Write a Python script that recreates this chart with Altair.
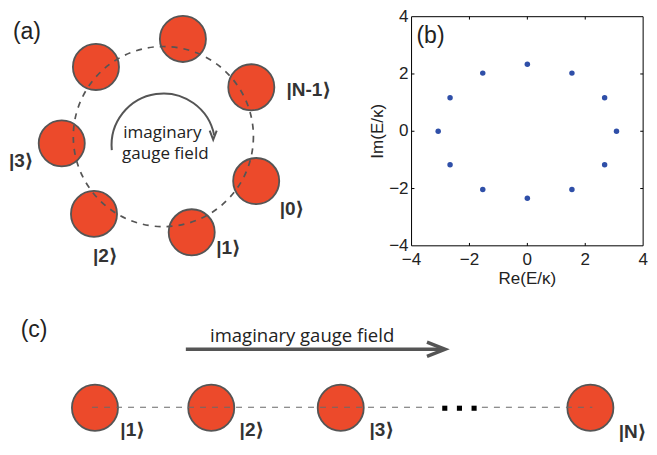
import math
import altair as alt
import pandas as pd

# ---------------- data ----------------
# panel (b): eigenvalues E/kappa
re_vals = [3.08, 2.67, 1.54, 0.0, -1.54, -2.67, -3.08, -2.67, -1.54, 0.0, 1.54, 2.67]
im_vals = [0.0, 1.17, 2.03, 2.34, 2.03, 1.17, 0.0, -1.17, -2.03, -2.34, -2.03, -1.17]
b_ticks = [-4, -2, 0, 2, 4]
b_tick_labels = ["−4", "−2", "0", "2", "4"]
b_inner_ticks = [-2, 0, 2]
b_xtitle = ["Re(E/κ)"]
b_ytitle = ["Im(E/κ)"]

# panel (a): ring of resonators (schematic, in reference-picture units)
ring_site_x = [184, 254, 259, 193, 93, 60, 95]
ring_site_y = [33, 83, 180, 233, 214, 141, 62]
ring_center_x = [164]
ring_center_y = [134]
ring_labels = ["|N-1⟩", "|0⟩", "|1⟩", "|2⟩", "|3⟩"]
ring_label_x = [290, 283, 218, 92, 6]
ring_label_y = [86, 209, 249, 258, 159]
gauge_a_text = ["imaginary", "gauge field"]
gauge_a_x = [163, 166]
gauge_a_y = [135.5, 157.5]
arc_center_x = [164]
arc_center_y = [143]
arc_head_x = [215]
arc_head_y = [132.5]

# panel (c): open chain of resonators
chain_site_x = [94, 213, 345.5, 601]
chain_site_y = [414.5, 414.5, 414.5, 414.5]
chain_labels = ["|1⟩", "|2⟩", "|3⟩", "|N⟩"]
chain_label_x = [120, 242, 375, 630]
chain_label_y = [438, 438, 438, 440]
link_x = [91, 490]
link_x2 = [445, 603]
link_y = [414, 414]
dots_x = [452, 467, 482]
dots_y = [415, 415, 415]
shaft_x = [187]
shaft_x2 = [450]
shaft_y = [354]
head_c_x = [443]
head_c_y = [354]
gauge_c_text = ["imaginary gauge field"]
gauge_c_x = [306]
gauge_c_y = [346.5]

# panel tags
tag_text = ["(a)", "(b)", "(c)"]
tag_x = [10, 423, 18]
tag_y = [25.5, 30, 334]

# ---------------- layout ----------------
W, H = 641, 436
RX0, RX1 = 5, 661
RY0, RY1 = 1, 452
PX = W / (RX1 - RX0)
PY = H / (RY1 - RY0)


def mx(v):
    return (v - RX0) * W / (RX1 - RX0)


def my(v):
    return (v - RY0) * H / (RY1 - RY0)


B_LEFT, B_RIGHT, B_TOP, B_BOTTOM = 418, 655, 10, 247

RED = "#EC4A2B"
EDGE = "#555555"
TXT = "#222222"
SANS = "Liberation Sans, Arial, DejaVu Sans"
KET = "Liberation Sans, DejaVu Sans"
SOFT = "Open Sans, DejaVu Sans"

xs = alt.Scale(domain=[RX0, RX1], range=[0, W], nice=False, zero=False)
ys = alt.Scale(domain=[RY0, RY1], range=[0, H], nice=False, zero=False)


def X(f):
    return alt.X(f, type="quantitative", scale=xs, axis=None)


def Y(f):
    return alt.Y(f, type="quantitative", scale=ys, axis=None)


sites = pd.DataFrame({"x": ring_site_x + chain_site_x, "y": ring_site_y + chain_site_y})
circles = alt.Chart(sites).mark_circle(
    size=math.pi * (26.6 * PX) ** 2, fill=RED, stroke=EDGE, strokeWidth=1.8, opacity=1
).encode(x=X("x"), y=Y("y"))

ring = alt.Chart(pd.DataFrame({"x": ring_center_x, "y": ring_center_y})).mark_point(
    shape="circle", filled=False, stroke=EDGE, strokeWidth=1.7, strokeDash=[6, 6],
    size=math.pi * (104 * PX) ** 2, opacity=1
).encode(x=X("x"), y=Y("y"))

links = alt.Chart(pd.DataFrame({"x": link_x, "x2": link_x2, "y": link_y})).mark_rule(
    stroke="#6a6a6a", strokeWidth=1.2, strokeDash=[6, 6]
).encode(x=X("x"), x2="x2", y=Y("y"))

dots = alt.Chart(pd.DataFrame({"x": dots_x, "y": dots_y})).mark_square(
    size=26, color="#000000", opacity=1
).encode(x=X("x"), y=Y("y"))

arc = alt.Chart(pd.DataFrame({"x": arc_center_x, "y": arc_center_y})).mark_arc(
    theta=4.62, theta2=7.66, radius=53 * PX, radius2=53 * PX,
    filled=False, color=EDGE, strokeWidth=2
).encode(x=X("x"), y=Y("y"))

arc_head = alt.Chart(pd.DataFrame({"x": arc_head_x, "y": arc_head_y})).mark_point(
    shape="M-0.78,-1L0,1L0.78,-1", filled=False, color=EDGE, strokeWidth=2,
    size=81, opacity=1
).encode(x=X("x"), y=Y("y"))

shaft = alt.Chart(pd.DataFrame({"x": shaft_x, "x2": shaft_x2, "y": shaft_y})).mark_rule(
    color=EDGE, strokeWidth=3.5
).encode(x=X("x"), x2="x2", y=Y("y"))

head_c = alt.Chart(pd.DataFrame({"x": head_c_x, "y": head_c_y})).mark_point(
    shape="M-1,-0.78L1,0L-1,0.78", filled=False, color=EDGE, strokeWidth=3.5,
    size=324, opacity=1
).encode(x=X("x"), y=Y("y"))

kets = alt.Chart(pd.DataFrame({
    "t": ring_labels + chain_labels,
    "x": ring_label_x + chain_label_x,
    "y": ring_label_y + chain_label_y,
})).mark_text(
    align="left", baseline="middle", font=KET, fontSize=19, fontWeight="bold", color="#333333"
).encode(x=X("x"), y=Y("y"), text="t:N")

gauge_a = alt.Chart(pd.DataFrame({"t": gauge_a_text, "x": gauge_a_x, "y": gauge_a_y})).mark_text(
    align="center", baseline="alphabetic", font=SOFT, fontSize=17, color=TXT
).encode(x=X("x"), y=Y("y"), text="t:N")

gauge_c = alt.Chart(pd.DataFrame({"t": gauge_c_text, "x": gauge_c_x, "y": gauge_c_y})).mark_text(
    align="center", baseline="alphabetic", font=SOFT, fontSize=18.5, color=TXT
).encode(x=X("x"), y=Y("y"), text="t:N")

tags = alt.Chart(pd.DataFrame({"t": tag_text, "x": tag_x, "y": tag_y})).mark_text(
    align="left", baseline="middle", font=SANS, fontSize=23, color=TXT
).encode(x=X("x"), y=Y("y"), text="t:N")

diagram = alt.layer(circles, ring, links, dots, arc, arc_head, shaft, head_c,
                    kets, gauge_a, gauge_c, tags)

# ---------------- panel (b) ----------------
bx = alt.Scale(domain=[-4, 4], range=[mx(B_LEFT), mx(B_RIGHT)], nice=False, zero=False)
by = alt.Scale(domain=[-4, 4], range=[my(B_BOTTOM), my(B_TOP)], nice=False, zero=False)


def BX(f):
    return alt.X(f, type="quantitative", scale=bx, axis=None)


def BY(f):
    return alt.Y(f, type="quantitative", scale=by, axis=None)


frame = alt.Chart(pd.DataFrame({"x": [-4], "x2": [4], "y": [-4], "y2": [4]})).mark_rect(
    filled=False, color="#000000", strokeWidth=1
).encode(x=BX("x"), x2="x2", y=BY("y"), y2="y2")

tl = 0.1
tick_rows = []
for t in b_inner_ticks:
    tick_rows.append({"x": t, "x2": t, "y": -4, "y2": -4 + tl})
    tick_rows.append({"x": t, "x2": t, "y": 4, "y2": 4 - tl})
    tick_rows.append({"x": -4, "x2": -4 + tl, "y": t, "y2": t})
    tick_rows.append({"x": 4, "x2": 4 - tl, "y": t, "y2": t})
ticks = alt.Chart(pd.DataFrame(tick_rows)).mark_rule(color="#000000", strokeWidth=1).encode(
    x=BX("x"), x2="x2", y=BY("y"), y2="y2"
)

xlab = alt.Chart(pd.DataFrame({
    "x": b_ticks, "y": [-4] * len(b_ticks), "t": b_tick_labels
})).mark_text(
    align="center", baseline="middle", dy=14.5, font=SANS, fontSize=17, color=TXT
).encode(x=BX("x"), y=BY("y"), text="t:N")

ylab = alt.Chart(pd.DataFrame({
    "x": [-4] * len(b_ticks), "y": b_ticks, "t": b_tick_labels
})).mark_text(
    align="right", baseline="middle", dx=-3, font=SANS, fontSize=17, color=TXT
).encode(x=BX("x"), y=BY("y"), text="t:N")

xtitle = alt.Chart(pd.DataFrame({"x": [0], "y": [-4], "t": b_xtitle})).mark_text(
    align="center", baseline="middle", dy=33.5, font=SANS, fontSize=17, color=TXT
).encode(x=BX("x"), y=BY("y"), text="t:N")

ytitle = alt.Chart(pd.DataFrame({"x": [-4], "y": [0], "t": b_ytitle})).mark_text(
    align="center", baseline="middle", angle=270, dy=-34, font=SANS, fontSize=17, color=TXT
).encode(x=BX("x"), y=BY("y"), text="t:N")

points = alt.Chart(pd.DataFrame({"re": re_vals, "im": im_vals})).mark_circle(
    size=30, color="#2F4FA8", opacity=1
).encode(x=BX("re"), y=BY("im"))

panel_b = alt.layer(frame, ticks, xlab, ylab, xtitle, ytitle, points)

chart = alt.layer(diagram, panel_b).resolve_scale(
    x="independent", y="independent"
).properties(
    width=W, height=H, autosize=alt.AutoSizeParams(type="none"), padding=0
).configure_view(strokeWidth=0)

chart.save("out.html", embed_options={"renderer": "svg", "actions": False})
